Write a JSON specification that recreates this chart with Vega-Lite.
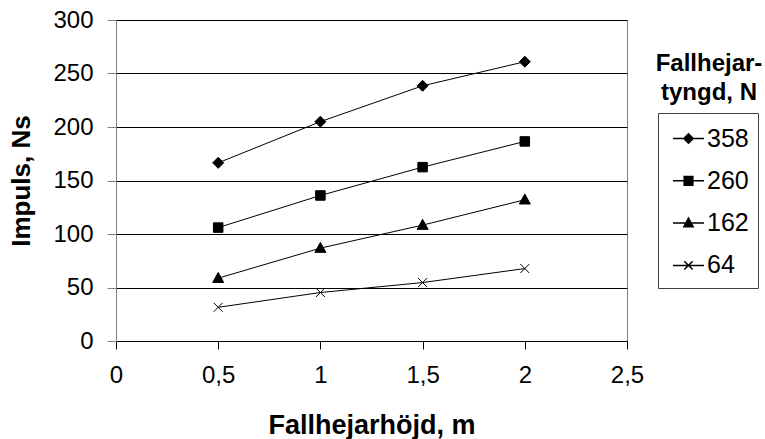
{
  "$schema": "https://vega.github.io/schema/vega-lite/v6.json",
  "width": 511,
  "height": 321,
  "autosize": "none",
  "padding": {"left": 116, "top": 20, "right": 138, "bottom": 98},
  "background": "white",
  "title": {
    "text": ["Fallhejar-", "tyngd, N"],
    "anchor": "end",
    "frame": "group",
    "align": "center",
    "baseline": "top",
    "dx": 82,
    "dy": 97,
    "offset": 0,
    "font": "Liberation Sans",
    "fontSize": 24,
    "fontWeight": "bold",
    "lineHeight": 29,
    "color": "black"
  },
  "config": {
    "view": {"stroke": "#808080"},
    "font": "Liberation Sans",
    "axis": {
      "labelFont": "Liberation Sans",
      "labelFontSize": 24,
      "labelColor": "black",
      "titleFont": "Liberation Sans",
      "titleFontSize": 26,
      "titleFontWeight": "bold",
      "titleColor": "black"
    }
  },
  "data": {
    "values": [
      {"h": 0.5, "F": 166.5, "s": "358"},
      {"h": 1.0, "F": 205, "s": "358"},
      {"h": 1.5, "F": 238.5, "s": "358"},
      {"h": 2.0, "F": 261, "s": "358"},
      {"h": 0.5, "F": 106, "s": "260"},
      {"h": 1.0, "F": 136, "s": "260"},
      {"h": 1.5, "F": 162.5, "s": "260"},
      {"h": 2.0, "F": 186.5, "s": "260"},
      {"h": 0.5, "F": 58.7, "s": "162"},
      {"h": 1.0, "F": 86.8, "s": "162"},
      {"h": 1.5, "F": 108.3, "s": "162"},
      {"h": 2.0, "F": 132, "s": "162"},
      {"h": 0.5, "F": 31.5, "s": "64"},
      {"h": 1.0, "F": 45.3, "s": "64"},
      {"h": 1.5, "F": 54.6, "s": "64"},
      {"h": 2.0, "F": 67.7, "s": "64"}
    ]
  },
  "encoding": {
    "x": {
      "field": "h",
      "type": "quantitative",
      "scale": {"domain": [0, 2.5], "nice": false, "zero": false},
      "axis": {
        "title": "Fallhejarhöjd, m",
        "titleFontSize": 27,
        "values": [0, 0.5, 1, 1.5, 2, 2.5],
        "labelExpr": "replace(format(datum.value, '~g'), '.', ',')",
        "grid": false,
        "domainColor": "black",
        "tickColor": "black",
        "tickSize": 8,
        "labelPadding": 14,
        "titlePadding": 25,
        "labelFlush": false
      }
    },
    "y": {
      "field": "F",
      "type": "quantitative",
      "scale": {"domain": [0, 300], "nice": false},
      "axis": {
        "title": "Impuls, Ns",
        "values": [0, 50, 100, 150, 200, 250, 300],
        "grid": true,
        "gridColor": "black",
        "gridOpacity": 1,
        "domainColor": "#808080",
        "tickColor": "#808080",
        "tickSize": 9,
        "labelPadding": 14,
        "titlePadding": 18,
        "labelFlush": false
      }
    }
  },
  "layer": [
    {
      "mark": {"type": "line", "color": "black", "strokeWidth": 1},
      "encoding": {"detail": {"field": "s", "type": "nominal"}}
    },
    {
      "mark": {"type": "point", "filled": true, "fill": "black", "stroke": "black", "strokeWidth": 1, "opacity": 1, "size": 100},
      "encoding": {
        "shape": {
          "field": "s",
          "type": "nominal",
          "scale": {
            "domain": ["358", "260", "162", "64"],
            "range": [
              "M0,-1.1L1.1,0L0,1.1L-1.1,0Z",
              "M-0.95,-0.95H0.95V0.95H-0.95Z",
              "M0,-1.15L1.1,0.85H-1.1Z",
              "M-0.9,-0.9L0.9,0.9M-0.9,0.9L0.9,-0.9"
            ]
          },
          "legend": null
        }
      }
    },
    {
      "transform": [{"filter": "false"}],
      "mark": {"type": "point", "filled": true, "fill": "black", "stroke": "black", "strokeWidth": 1, "opacity": 1, "size": 961},
      "encoding": {
        "shape": {
          "field": "s",
          "type": "nominal",
          "scale": {
            "domain": ["358", "260", "162", "64"],
            "range": [
              "M-1,0H1M0,-0.3L0.3,0L0,0.3L-0.3,0Z",
              "M-1,0H1M-0.28,-0.28H0.28V0.28H-0.28Z",
              "M-1,0H1M0,-0.32L0.3,0.24H-0.3Z",
              "M-1,0H1M-0.27,-0.27L0.27,0.27M-0.27,0.27L0.27,-0.27"
            ]
          },
          "legend": {
            "orient": "none",
            "legendX": 542,
            "legendY": 93,
            "title": null,
            "symbolSize": 961,
            "symbolOffset": 5,
            "labelFont": "Liberation Sans",
            "labelFontSize": 25,
            "labelColor": "black",
            "labelOffset": 2,
            "rowPadding": 12.3,
            "padding": 9,
            "strokeColor": "#404040",
            "encode": {
              "symbols": {
                "update": {
                  "fill": {"value": "black"},
                  "stroke": {"value": "black"},
                  "strokeWidth": {"value": 1},
                  "opacity": {"value": 1}
                }
              }
            }
          }
        }
      }
    }
  ],
  "resolve": {"scale": {"shape": "independent"}, "legend": {"shape": "independent"}}
}
